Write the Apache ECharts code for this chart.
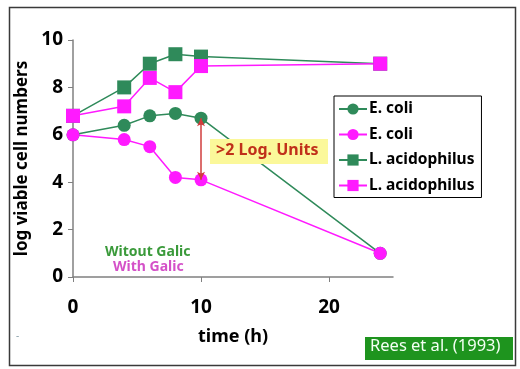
<!DOCTYPE html>
<html><head><meta charset="utf-8">
<script src="https://cdn.jsdelivr.net/npm/echarts@6/dist/echarts.min.js"></script>
<style>html,body{margin:0;padding:0;background:#fff}#c{width:520px;height:369px}</style>
</head><body><div id="c"></div>
<script>
const time = [0, 4, 6, 8, 10, 24];
const ecoliNoGarlic = [6.0, 6.4, 6.8, 6.9, 6.7, 1.0];
const ecoliGarlic = [6.0, 5.8, 5.5, 4.2, 4.1, 1.0];
const lacidNoGarlic = [6.8, 8.0, 9.0, 9.4, 9.3, 9.0];
const lacidGarlic = [6.8, 7.2, 8.4, 7.8, 8.9, 9.0];
const seriesNames = ['E. coli', 'E. coli ', 'L. acidophilus', 'L. acidophilus '];
const xTicks = [0, 10, 20];
const gapFrom = [10, 6.7], gapTo = [10, 4.1];

const GREEN = '#2f8a5a', MAG = '#ff1aff';
const FONT = 'Noto Sans';
const pairs = arr => time.map((t, i) => [t, arr[i]]);

function mk(name, data, color, symbol, size, extra) {
  return Object.assign({
    name, type: 'line', data: pairs(data), symbol, symbolSize: size,
    itemStyle: {color}, lineStyle: {color, width: 1.5}, animation: false
  }, extra || {});
}

const chart = echarts.init(document.getElementById('c'), null, {renderer: 'canvas'});
chart.setOption({
  animation: false,
  textStyle: {fontFamily: FONT},
  grid: {left: 73, right: 127, top: 40, bottom: 92},
  xAxis: {
    type: 'value', min: 0, max: 25, interval: 10,
    name: 'time (h)', nameLocation: 'middle', nameGap: 51,
    nameTextStyle: {fontFamily: FONT, fontWeight: 'bold', fontSize: 18, color: '#000'},
    axisLine: {lineStyle: {color: '#808080', width: 1.5}},
    axisTick: {show: true, length: 5, customValues: xTicks, lineStyle: {color: '#808080'}},
    axisLabel: {customValues: xTicks, margin: 21, fontFamily: FONT, fontWeight: 'bold', fontSize: 19, color: '#000'},
    splitLine: {show: false}
  },
  yAxis: {
    type: 'value', min: 0, max: 10, interval: 2,
    name: 'log viable cell numbers', nameLocation: 'middle', nameGap: 36,
    nameTextStyle: {fontFamily: FONT, fontWeight: 'bold', fontSize: 17, color: '#000'},
    axisLine: {show: true, lineStyle: {color: '#808080', width: 1.5}},
    axisTick: {show: true, length: 5, lineStyle: {color: '#808080'}},
    axisLabel: {margin: 10, fontFamily: FONT, fontWeight: 'bold', fontSize: 19, color: '#000'},
    splitLine: {show: false}
  },
  legend: {
    orient: 'vertical', left: 334, top: 96, padding: [5, 3, 4, 4],
    borderColor: '#000', borderWidth: 1, backgroundColor: '#fff',
    itemWidth: 28, itemHeight: 14, itemGap: 9.5,
    data: seriesNames,
    textStyle: {fontFamily: FONT, fontWeight: 'bold', fontSize: 15.5, color: '#000', padding: [0,0,0,-3]}
  },
  series: [
    mk(seriesNames[0], ecoliNoGarlic, GREEN, 'circle', 13),
    mk(seriesNames[1], ecoliGarlic, MAG, 'circle', 13, {
      markLine: {
        silent: true, symbol: ['arrow', 'arrow'], symbolSize: [6, 8],
        label: {show: false},
        lineStyle: {color: '#d03c3c', width: 1.5, type: 'solid'},
        data: [[{coord: gapFrom}, {coord: gapTo}]]
      }
    }),
    mk(seriesNames[2], lacidNoGarlic, GREEN, 'rect', 14),
    mk(seriesNames[3], lacidGarlic, MAG, 'rect', 14)
  ],
  graphic: [
    {type: 'rect', left: 7, top: 5, shape: {width: 506, height: 358}, style: {fill: 'none', stroke: '#3a3a3a', lineWidth: 1.5}, silent: true, z: 0},
    {type: 'rect', left: 210, top: 139, shape: {width: 118, height: 25}, style: {fill: '#fbf89a'}, z: 10},
    {type: 'text', left: 216, top: 142, style: {text: '>2 Log. Units', fill: '#c0301a', font: 'bold 16px "Noto Sans"'}, z: 11},
    {type: 'text', left: 105, top: 245, style: {text: 'Witout Galic', fill: '#3a9a3a', font: 'bold 14px "Noto Sans"'}, z: 11},
    {type: 'text', left: 113, top: 260, style: {text: 'With Galic', fill: '#d451c8', font: 'bold 14px "Noto Sans"'}, z: 11},
    {type: 'rect', left: 365, top: 337, shape: {width: 148, height: 23}, style: {fill: '#1e941e'}, z: 10},
    {type: 'text', left: 370, top: 338, style: {text: 'Rees et al. (1993)', fill: '#f4fff4', font: '16.5px "Noto Sans"'}, z: 11},
    {type: 'text', left: 16, top: 331, style: {text: '-', fill: '#8aa0aa', font: '10px "Noto Sans"'}, z: 11}
  ]
});
</script></body></html>
